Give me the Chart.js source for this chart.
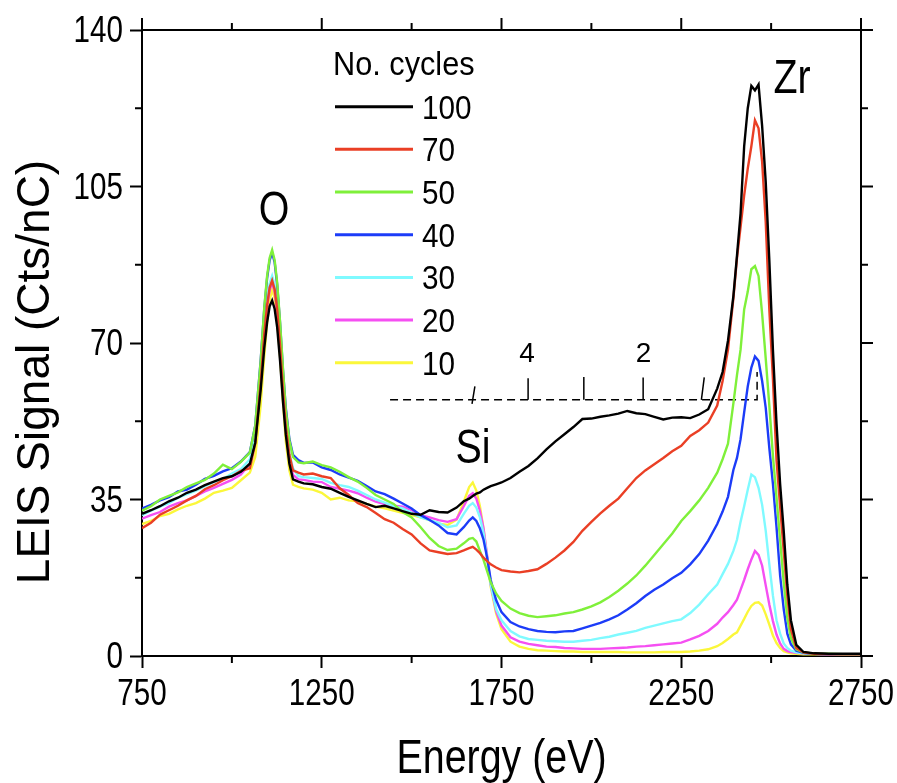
<!DOCTYPE html>
<html><head><meta charset="utf-8">
<script src="https://cdn.jsdelivr.net/npm/chart.js@4.4.1/dist/chart.umd.min.js"></script>
<style>html,body{margin:0;padding:0;background:#fff;}#wrap{width:897px;height:783px;}</style>
</head><body><div id="wrap"><canvas id="c" width="897" height="783"></canvas></div>
<script>
// ---------- DATA ----------
const energy = [750,775,800,825,850,875,900,925,950,975,1000,1025,1050,
 1065,1080,1090,1098,1105,1112,1119,1126,1134,1142,1150,1160,1170,
 1185,1200,1225,1250,1275,1300,1325,1350,1375,1400,1425,1450,1475,1500,1525,1550,1575,1600,1625,
 1645,1660,1670,1680,1690,1700,1710,1720,1735,1750,
 1775,1800,1825,1850,1875,1900,1925,1950,1975,2000,2025,2050,2075,2100,2125,2150,2175,2200,2225,2250,2275,2300,2325,2350,
 2365,2380,2395,2405,2415,2425,2435,2445,2455,2465,2475,2485,2495,2505,2515,2525,2535,2545,2555,
 2570,2590,2620,2660,2700,2750];

const cycles = ['100','70','50','40','30','20','10'];

const signal100 = [31.8,32.6,33.5,34.6,35.4,36.5,37.2,38.2,39.0,39.8,40.2,41.2,43.0,
 47.7,59.4,68.8,74.6,78.2,79.5,77.6,73.5,66.0,57.0,49.5,43.0,39.5,
 39.0,38.6,38.4,37.8,37.4,36.5,35.6,34.8,34.0,33.3,33.6,33.0,32.4,31.8,31.6,32.6,32.2,32.1,33.2,
 34.6,35.2,35.8,36.3,36.6,37.2,37.6,38.0,38.4,38.8,
 39.8,41.2,42.5,44.2,46.2,48.0,49.6,51.2,53.0,53.1,53.5,53.8,54.2,54.8,54.3,54.1,53.5,52.9,53.3,53.4,53.2,54.0,55.2,59.8,
 63.5,70.5,80.5,89.5,99.0,114.0,122.5,127.5,126.5,127.8,118.5,106.0,88.5,68.5,52.0,38.5,28.0,16.0,8.0,
 2.5,0.9,0.6,0.5,0.5,0.5];

const signal70 = [28.6,29.8,31.6,32.6,33.6,34.8,35.8,37.3,38.2,39.3,40.2,41.4,42.0,
 47.5,61.0,71.8,78.5,82.4,84.0,82.0,77.5,69.5,59.5,51.2,45.0,41.5,
 41.0,40.6,40.8,40.2,39.8,37.5,36.0,34.2,33.3,32.0,30.6,29.8,28.4,27.2,25.2,23.6,23.2,22.8,23.0,
 23.6,24.1,24.4,23.8,23.0,22.0,21.2,20.5,19.8,19.2,
 18.9,18.7,19.0,19.4,20.6,22.0,23.6,25.5,28.0,30.0,31.9,33.6,35.2,37.5,39.8,41.5,42.9,44.3,45.8,47.0,49.2,50.5,52.2,56.0,
 61.5,68.5,80.0,89.0,96.0,103.0,109.0,114.0,119.8,118.0,110.5,97.0,77.5,62.0,43.8,33.5,23.5,13.5,6.0,
 1.8,0.8,0.5,0.4,0.4,0.4];

const signal50 = [32.5,33.5,35.0,35.8,36.6,37.8,38.6,39.4,40.8,42.8,41.8,43.4,45.5,
 51.5,65.8,77.8,85.0,89.0,90.8,88.5,83.5,74.8,64.5,55.0,48.2,44.5,
 43.3,43.1,43.5,42.7,42.2,41.2,40.0,39.0,37.6,36.0,35.0,34.0,32.2,31.0,28.8,26.4,24.6,23.7,24.0,
 25.2,26.2,26.4,25.6,23.5,21.5,19.0,16.5,14.0,12.3,
 10.6,9.6,9.0,8.7,8.9,9.1,9.5,9.8,10.4,11.1,12.0,13.2,14.6,16.2,18.0,20.2,22.6,25.0,27.4,30.2,32.4,34.8,37.6,41.0,
 44.0,47.5,56.5,62.8,68.5,77.5,81.5,86.5,87.2,85.0,76.5,66.5,56.0,44.8,35.5,26.0,16.5,8.5,4.0,
 1.5,0.8,0.5,0.5,0.4,0.4];

const signal40 = [33.0,33.8,34.8,35.5,36.8,37.2,38.3,39.6,40.3,41.3,42.0,43.5,45.6,
 51.5,66.0,77.5,84.5,88.5,90.2,88.0,83.0,74.5,64.0,55.5,48.5,45.0,
 43.8,43.2,43.3,42.2,41.6,40.6,39.9,39.2,38.0,36.8,36.2,35.2,34.1,33.0,31.5,30.4,29.2,27.5,27.2,
 28.8,30.3,31.0,30.2,28.5,26.0,22.0,17.0,12.5,9.8,
 7.6,6.6,6.0,5.6,5.4,5.3,5.5,5.6,6.2,6.8,7.4,8.2,9.1,10.4,11.8,13.4,14.8,16.0,17.4,18.6,20.5,22.8,25.8,29.5,
 32.3,35.6,41.6,44.3,48.5,54.5,60.3,64.5,67.0,66.0,61.5,55.5,46.5,38.5,28.8,18.0,10.5,5.0,2.6,
 1.2,0.7,0.5,0.4,0.4,0.4];

const signal30 = [31.5,32.5,33.4,34.2,35.4,36.2,37.0,38.0,38.9,39.6,40.8,41.8,44.0,
 49.3,62.5,73.0,79.7,83.3,85.0,83.0,78.3,70.5,60.5,52.0,45.3,42.0,
 40.2,40.0,39.8,39.6,38.7,38.2,37.8,37.0,36.0,35.0,34.3,33.5,33.0,32.0,31.0,30.4,29.8,28.8,29.2,
 31.8,33.6,34.2,33.2,31.0,27.5,22.0,16.0,10.5,8.0,
 5.6,4.4,3.8,3.6,3.4,3.3,3.2,3.2,3.4,3.6,4.0,4.3,4.8,5.2,5.6,6.3,6.8,7.3,7.8,8.2,9.6,11.5,13.8,16.0,
 18.3,20.6,23.5,26.0,30.0,33.5,37.2,40.6,40.0,37.6,33.8,28.0,20.5,13.5,8.0,5.0,2.8,1.8,1.2,
 0.8,0.6,0.5,0.4,0.4,0.4];

const signal20 = [30.7,31.5,32.2,33.4,34.2,34.8,35.8,36.8,37.6,38.5,39.4,40.6,43.0,
 48.3,61.2,71.7,78.2,81.8,83.5,81.5,77.0,68.8,58.8,50.5,43.8,40.5,
 39.5,39.4,39.0,38.9,37.8,37.4,37.0,36.4,35.4,34.5,34.0,33.6,33.4,32.6,31.5,31.0,30.4,30.0,30.6,
 33.5,35.8,36.4,35.2,32.5,28.5,22.5,16.0,10.0,6.8,
 4.2,3.2,2.7,2.4,2.1,2.0,1.8,1.7,1.6,1.6,1.6,1.7,1.8,1.9,2.1,2.2,2.4,2.6,2.8,3.0,3.7,4.5,5.6,7.2,
 8.6,9.8,11.4,12.6,14.8,17.0,19.4,21.6,23.5,22.6,20.2,15.8,11.5,7.8,4.8,2.8,1.6,1.1,0.9,
 0.7,0.6,0.5,0.4,0.4,0.4];

const signal10 = [29.5,30.2,31.3,31.8,32.8,33.6,34.2,35.2,36.5,37.0,37.6,39.3,41.0,
 44.5,56.0,67.0,74.5,79.5,82.0,80.0,75.0,67.0,57.0,48.0,41.5,38.3,
 37.8,37.5,37.2,36.5,35.0,35.4,34.8,34.6,34.0,33.4,33.0,32.5,32.0,31.5,31.0,30.4,29.6,29.3,30.5,
 34.5,37.8,38.8,37.0,33.5,28.5,22.0,15.5,9.5,6.0,
 3.2,2.1,1.6,1.3,1.2,1.1,1.0,1.0,0.9,0.9,0.9,0.9,0.9,0.8,0.8,0.8,0.8,0.9,0.9,0.9,1.0,1.2,1.5,2.2,
 2.9,3.8,4.8,5.3,6.8,8.3,9.9,11.2,11.9,12.0,11.3,9.3,7.0,4.6,2.9,1.8,1.1,0.8,0.6,
 0.5,0.4,0.4,0.4,0.3,0.3];

const xTickLabels = [750,1250,1750,2250,2750];
const yTickLabels = [0,35,70,105,140];
const xTitle = 'Energy (eV)';
const yTitle = 'LEIS Signal (Cts/nC)';
const legendTitle = 'No. cycles';

// annotation content (data coordinates)
const peakNames = ['O','Si','Zr'];
const peakNameEnergy = [1117,1671,2558];
const peakNameSignal = [96.3,43.1,126.0];
const depthLabels = ['4','2'];
const depthLabelEnergy = [1821,2145];
const depthLabelSignal = [65.7,65.7];
const depthLineEnergy = [1440,2461,2461];
const depthLineSignal = [57.3,57.3,63.5];
const depthMarkEnergy = [1668,1676,null,1824,1824,null,1979,1979,null,2144,2144,null,2306,2314];
const depthMarkSignal = [56.4,60.3,null,57.3,62.1,null,57.3,62.4,null,57.3,62.3,null,57.3,62.3];

// ---------- STYLE ----------
const colors = ['#000000','#ea3f25','#7ff03a','#1c3cf8','#7ffaff','#f54ff2','#fbf73a'];
const REG = "'Liberation Sans',Arial,Helvetica,sans-serif";

const seriesValues = [signal100,signal70,signal50,signal40,signal30,signal20,signal10];
const toXY = (xs, ys) => xs.map((e,i) => ({x: e === null ? NaN : e, y: ys[i]}));

const datasets = seriesValues.map((vals,i) => ({
  label: cycles[i], isSeries: true,
  data: toXY(energy, vals),
  borderColor: colors[i], backgroundColor: colors[i],
  borderWidth: 2.4, pointRadius: 0, tension: 0, fill: false
}));
datasets.push({label:'depth', data: toXY(depthLineEnergy, depthLineSignal), borderColor:'#000', borderWidth:1.5, borderDash:[8,5], pointRadius:0, tension:0, fill:false});
datasets.push({label:'marks', data: toXY(depthMarkEnergy, depthMarkSignal), borderColor:'#000', borderWidth:1.5, pointRadius:0, tension:0, spanGaps:false, fill:false});

const MAJOR = 12, MINOR = 7;

function squeezed(ctx, text, x, y, sx, align) {
  ctx.save();
  ctx.translate(x, y);
  ctx.scale(sx, 1);
  ctx.textAlign = align;
  ctx.fillText(text, 0, 0);
  ctx.restore();
}

const framePlugin = {
  id: 'frame',
  afterDraw(chart) {
    const {ctx, chartArea: a, scales: {x, y}} = chart;
    ctx.save();
    ctx.strokeStyle = '#000';
    ctx.lineWidth = 2;
    ctx.beginPath();
    ctx.moveTo(a.left - 1, a.top); ctx.lineTo(a.right, a.top);
    ctx.moveTo(a.right, a.top); ctx.lineTo(a.right, a.bottom + 1);
    x.ticks.forEach(t => {
      const px = x.getPixelForValue(t.value);
      const major = xTickLabels.includes(t.value);
      if (!major) { ctx.moveTo(px, a.bottom); ctx.lineTo(px, a.bottom + MINOR); }
      ctx.moveTo(px, a.top); ctx.lineTo(px, a.top - (major ? MAJOR : MINOR));
    });
    y.ticks.forEach(t => {
      const py = y.getPixelForValue(t.value);
      const major = yTickLabels.includes(t.value);
      if (!major) { ctx.moveTo(a.left, py); ctx.lineTo(a.left - MINOR, py); }
      ctx.moveTo(a.right, py); ctx.lineTo(a.right + (major ? MAJOR : MINOR), py);
    });
    ctx.stroke();

    ctx.fillStyle = '#000';
    ctx.textBaseline = 'alphabetic';
    // tick labels
    ctx.font = '37px ' + REG;
    xTickLabels.forEach(v => squeezed(ctx, String(v), x.getPixelForValue(v), a.bottom + 49, 0.8, 'center'));
    yTickLabels.forEach(v => squeezed(ctx, String(v), a.left - 19, y.getPixelForValue(v) + 12, 0.8, 'right'));
    // axis titles
    ctx.font = '48px ' + REG;
    squeezed(ctx, xTitle, (a.left + a.right) / 2, a.bottom + 117, 0.82, 'center');
    ctx.save();
    ctx.font = '46px ' + REG;
    ctx.textAlign = 'center';
    ctx.translate(49, a.top + 342);
    ctx.rotate(-Math.PI/2);
    ctx.fillText(yTitle, 0, 0);
    ctx.restore();

    // annotations
    ctx.font = '48px ' + REG;
    peakNames.forEach((t,i) => squeezed(ctx, t, x.getPixelForValue(peakNameEnergy[i]), y.getPixelForValue(peakNameSignal[i]), 0.82, 'center'));
    ctx.font = '28px ' + REG;
    depthLabels.forEach((t,i) => squeezed(ctx, t, x.getPixelForValue(depthLabelEnergy[i]), y.getPixelForValue(depthLabelSignal[i]), 1, 'center'));

    // legend
    ctx.font = '33px ' + REG;
    squeezed(ctx, legendTitle, 333, 75, 0.93, 'left');
    chart.data.datasets.filter(d => d.isSeries).forEach((d,i) => {
      const ly = 106.7 + i*42.67;
      ctx.strokeStyle = d.borderColor; ctx.lineWidth = 3;
      ctx.beginPath(); ctx.moveTo(335, ly); ctx.lineTo(413, ly); ctx.stroke();
      squeezed(ctx, d.label, 422, ly + 12, 0.9, 'left');
    });
    ctx.restore();
  }
};

new Chart(document.getElementById('c'), {
  type: 'line',
  data: { datasets },
  options: {
    responsive: false, animation: false, devicePixelRatio: 1,
    layout: { padding: { left: 0, right: 36, top: 30, bottom: 0 } },
    plugins: { legend: { display: false }, tooltip: { enabled: false } },
    scales: {
      x: {
        type: 'linear', min: 750, max: 2750,
        afterFit: s => { s.height = 127; },
        border: { display: true, color: '#000', width: 2 },
        grid: { display: true, drawOnChartArea: false, drawTicks: true, tickLength: MAJOR, tickWidth: 2,
                tickColor: c => xTickLabels.includes(c.tick.value) ? '#000' : 'rgba(0,0,0,0)' },
        ticks: { display: false, stepSize: 250, autoSkip: false, maxRotation: 0 }
      },
      y: {
        type: 'linear', min: 0, max: 140,
        afterFit: s => { s.width = 142; },
        border: { display: true, color: '#000', width: 2 },
        grid: { display: true, drawOnChartArea: false, drawTicks: true, tickLength: MAJOR, tickWidth: 2,
                tickColor: c => yTickLabels.includes(c.tick.value) ? '#000' : 'rgba(0,0,0,0)' },
        ticks: { display: false, stepSize: 17.5, autoSkip: false }
      }
    }
  },
  plugins: [framePlugin]
});
</script></body></html>
